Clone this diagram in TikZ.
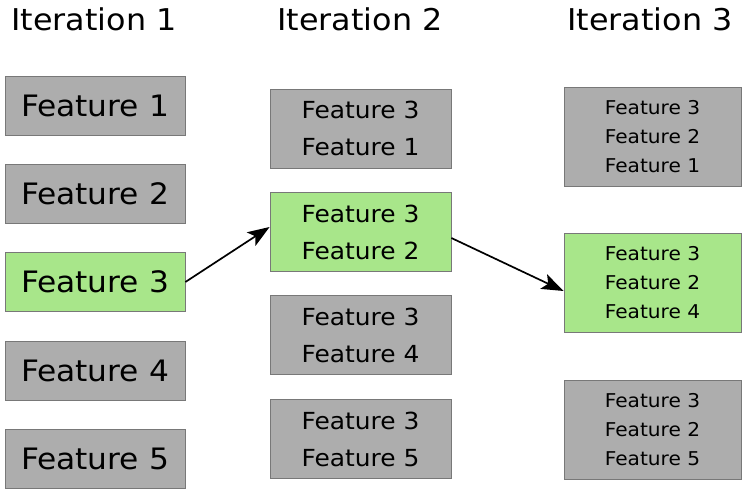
\documentclass[tikz,border=0pt]{standalone}
\usepackage{fontspec}
\setmainfont{DejaVu Sans}[FakeStretch=1.06]
\usetikzlibrary{arrows.meta}
\definecolor{boxgray}{RGB}{173,173,173}
\definecolor{boxgreen}{RGB}{168,230,138}
\definecolor{edgegray}{RGB}{120,120,120}

\begin{document}
\begin{tikzpicture}[x=1pt, y=-1pt,
  featbox/.style={draw=edgegray, fill=boxgray, line width=0.8pt, inner sep=0pt, align=center},
  onebox/.style={featbox, minimum width=180pt, minimum height=59pt, font=\fontsize{29.5}{36}\selectfont},
  twobox/.style={featbox, minimum width=181pt, minimum height=79pt, font=\fontsize{23.5}{37}\selectfont},
  threebox/.style={featbox, minimum width=177pt, minimum height=99pt, font=\fontsize{19}{29}\selectfont},
  chosen/.style={fill=boxgreen},
  title/.style={anchor=base, font=\fontsize{30}{36}\selectfont},
  pick/.style={-{Stealth[length=22pt, width=16pt, inset=5pt]}, line width=1.7pt}
]
\useasboundingbox (0,0) rectangle (742,489);

% Column headings
\node[title] (it1) at (94,31) {Iteration 1};
\node[title] (it2) at (360,31) {Iteration 2};
\node[title] (it3) at (650,31) {Iteration 3};

% Iteration 1: single features
\node[onebox] (a1) at (95,105.5) {Feature 1};
\node[onebox] (a2) at (95,193.5) {Feature 2};
\node[onebox, chosen] (a3) at (95,282) {Feature 3};
\node[onebox] (a4) at (95,370.5) {Feature 4};
\node[onebox] (a5) at (95,459) {Feature 5};

% Iteration 2: pairs with Feature 3
\node[twobox] (b1) at (360.5,128.5) {Feature 3\\Feature 1};
\node[twobox, chosen] (b2) at (360.5,232) {Feature 3\\Feature 2};
\node[twobox] (b3) at (360.5,335) {Feature 3\\Feature 4};
\node[twobox] (b4) at (360.5,439) {Feature 3\\Feature 5};

% Iteration 3: triples with Feature 3 and 2
\node[threebox] (c1) at (652.5,136.5) {Feature 3\\Feature 2\\Feature 1};
\node[threebox, chosen] (c2) at (652.5,283) {Feature 3\\Feature 2\\Feature 4};
\node[threebox] (c3) at (652.5,430) {Feature 3\\Feature 2\\Feature 5};

% Selected paths
\draw[pick] (a3.east) -- ([yshift=5pt]b2.west);
\draw[pick] ([yshift=-6pt]b2.east) -- ([yshift=-8pt]c2.west);

\end{tikzpicture}
\end{document}
